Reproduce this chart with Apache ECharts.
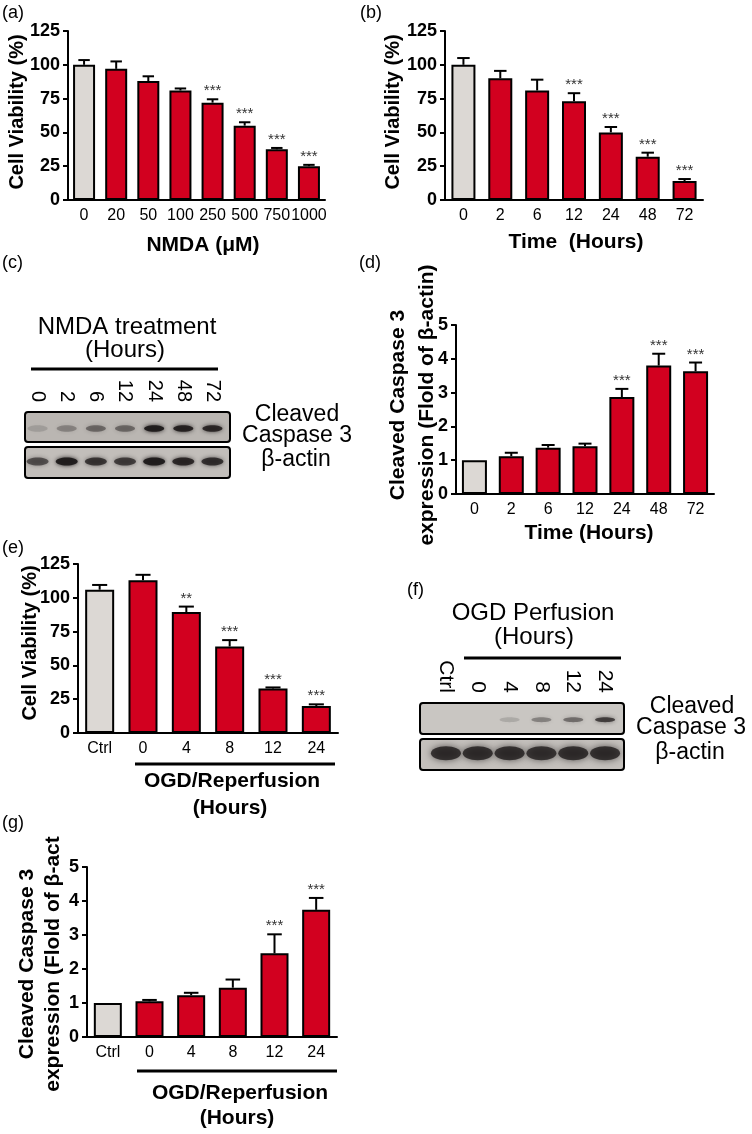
<!DOCTYPE html>
<html><head><meta charset="utf-8">
<script src="https://cdn.jsdelivr.net/npm/echarts@6/dist/echarts.min.js"></script>
<style>html,body{margin:0;padding:0;background:#fff}#c{width:752px;height:1134px}</style>
</head><body><div id="c"></div>
<script>
// ---------- data ----------
const catA = ['0','20','50','100','250','500','750','1000'];
const valA = [100, 97, 88, 81, 72, 55, 37.5, 25];
const errA = [3.5, 5.5, 3.5, 1.5, 2.5, 2.5, 1, 1];
const sigA = ['', '', '', '', '***', '***', '***', '***'];

const catB = ['0','2','6','12','24','48','72'];
const valB = [100, 90, 81, 73, 50, 32, 14];
const errB = [5, 5.5, 8, 6, 4, 3, 1.5];
const sigB = ['', '', '', '***', '***', '***', '***'];

const laneC = ['0','2','6','12','24','48','72'];
const casC = [0.15, 0.3, 0.45, 0.45, 0.95, 0.9, 0.85];
const actC = [0.6, 0.95, 0.75, 0.7, 0.95, 0.85, 0.8];

const catD = ['0','2','6','12','24','48','72'];
const valD = [1, 1.12, 1.37, 1.41, 2.87, 3.8, 3.63];
const errD = [0, 0.1, 0.08, 0.08, 0.24, 0.35, 0.26];
const sigD = ['', '', '', '', '***', '***', '***'];

const catE = ['Ctrl','0','4','8','12','24'];
const valE = [106, 113, 89.5, 64, 33, 20];
const errE = [3.5, 4, 4, 4.7, 0.7, 1.2];
const sigE = ['', '', '**', '***', '***', '***'];

const laneF = ['Ctrl','0','4','8','12','24'];
const casF = [0, 0, 0.15, 0.35, 0.45, 0.7];
const actF = [0.8, 0.8, 0.8, 0.78, 0.8, 0.8];

const catG = ['Ctrl','0','4','8','12','24'];
const valG = [1, 1.05, 1.23, 1.45, 2.46, 3.74];
const errG = [0, 0.04, 0.07, 0.24, 0.56, 0.35];
const sigG = ['', '', '', '', '***', '***'];

const ticksViability = [0, 25, 50, 75, 100, 125];
const ticksFold = [0, 1, 2, 3, 4, 5];

// ---------- style ----------
const FF = '"Liberation Sans", Arial, sans-serif';
const RED = '#d2001f';
const GRAY = '#dcd8d4';

const grids = [], xAxes = [], yAxes = [], series = [];

function barPanel(gi, layout, cats, vals, errs, sigs, ticks, bw) {
  grids.push(layout);
  xAxes.push({type:'category', gridIndex:gi, data:cats,
    axisLine:{lineStyle:{color:'#000', width:2}}, axisTick:{show:false},
    axisLabel:{color:'#000', fontSize:16, fontFamily:FF, margin:8, interval:0}});
  yAxes.push({type:'value', gridIndex:gi, min:ticks[0], max:ticks[ticks.length-1],
    interval:ticks[1]-ticks[0],
    axisLine:{show:true, lineStyle:{color:'#000', width:2}},
    axisTick:{show:true, length:5, lineStyle:{color:'#000', width:2}},
    splitLine:{show:false},
    axisLabel:{color:'#000', fontSize:18, fontWeight:'bold', fontFamily:FF, margin:8}});
  series.push({type:'bar', xAxisIndex:gi, yAxisIndex:gi, barWidth:bw, z:3,
    itemStyle:{borderColor:'#000', borderWidth:2},
    data: vals.map((v,k)=>({value:v, itemStyle:{color: k===0 ? GRAY : RED}}))});
  series.push({type:'custom', xAxisIndex:gi, yAxisIndex:gi, z:4,
    data: vals.map((v,k)=>[k, v, errs[k]]),
    renderItem(params, api) {
      const x = api.value(0), v = api.value(1), e = api.value(2);
      const top = api.coord([x, v]);
      const up = api.coord([x, v + e]);
      const half = bw * 0.26;
      const ch = [];
      if (e > 0) {
        ch.push({type:'line', shape:{x1:top[0], y1:top[1], x2:up[0], y2:up[1]}, style:{stroke:'#000', lineWidth:2}});
        ch.push({type:'line', shape:{x1:up[0]-half, y1:up[1], x2:up[0]+half, y2:up[1]}, style:{stroke:'#000', lineWidth:2}});
      }
      const s = sigs[params.dataIndex];
      if (s) ch.push({type:'text', style:{text:s, x:up[0], y:up[1]-8, align:'center', verticalAlign:'middle', font:'15px ' + FF, fill:'#333'}});
      return {type:'group', children:ch};
    }});
}

function blotPanel(gi, layout, lanes, cas, act, fontSize, sizes) {
  grids.push(layout);
  xAxes.push({type:'category', gridIndex:gi, data:lanes, position:'top',
    axisLine:{show:false}, axisTick:{show:false},
    axisLabel:{rotate:90, color:'#000', fontSize:fontSize, fontFamily:FF, margin:10, interval:0}});
  yAxes.push({type:'category', gridIndex:gi, data:['Cleaved Caspase 3','β-actin'], inverse:true, show:false});
  const data = [];
  lanes.forEach((l,k)=>{ data.push([k, 0, cas[k]]); data.push([k, 1, act[k]]); });
  series.push({type:'custom', xAxisIndex:gi, yAxisIndex:gi, z:5, data,
    renderItem(params, api) {
      const c = api.coord([api.value(0), api.value(1)]);
      const a = api.value(2);
      const sz = sizes[api.value(1)];
      if (a <= 0) return {type:'group', children:[]};
      const col = 'rgba(30,26,26,' + a.toFixed(2) + ')';
      return {type:'ellipse', shape:{cx:c[0], cy:c[1] + sz[2], rx:sz[0], ry:sz[1]},
        style:{fill:col, shadowBlur:sz[3], shadowColor:col}};
    }});
}

// (a)
barPanel(0, {left:68, top:31, width:257, height:169}, catA, valA, errA, sigA, ticksViability, 22);
// (b)
barPanel(1, {left:445, top:31, width:258, height:169}, catB, valB, errB, sigB, ticksViability, 24);
// (d)
barPanel(2, {left:456, top:325, width:258, height:169}, catD, valD, errD, sigD, ticksFold, 25);
// (e)
barPanel(3, {left:78, top:564, width:260, height:169}, catE, valE, errE, sigE, ticksViability, 29);
// (g)
barPanel(4, {left:87, top:867, width:250, height:170}, catG, valG, errG, sigG, ticksFold, 28);
// (c) blot
blotPanel(5, {left:23, top:412, width:204, height:66}, laneC, casC, actC, 20, [[10,3.2,0,4],[11,4,0,4]]);
// (f) blot
blotPanel(6, {left:430, top:703, width:191, height:67}, laneF, casF, actF, 21, [[10,2.4,0,4],[15,7,0,7]]);

function txt(text, x, y, size, opt) {
  opt = opt || {};
  return {type:'text', x, y, rotation: opt.rot || 0, z:10,
    style:{text, font:(opt.bold ? 'bold ' : '') + size + 'px ' + FF, fill:'#000',
      align: opt.align || 'center', verticalAlign:'middle', lineHeight: opt.lh || size * 1.2}};
}
function hline(x1, x2, y) {
  return {type:'line', z:10, shape:{x1, y1:y, x2, y2:y}, style:{stroke:'#000', lineWidth:3}};
}
function box(x, y, w, h, fill) {
  return {type:'rect', z:0, shape:{x, y, width:w, height:h, r:3}, style:{fill, stroke:'#000', lineWidth:2}};
}
const R = Math.PI / 2;
const graphic = [
  txt('(a)', 2, 13, 18, {align:'left'}),
  txt('(b)', 360, 13, 18, {align:'left'}),
  txt('(c)', 2, 263, 18, {align:'left'}),
  txt('(d)', 359, 263, 18, {align:'left'}),
  txt('(e)', 2, 548, 18, {align:'left'}),
  txt('(f)', 407, 590, 18, {align:'left'}),
  txt('(g)', 2, 823, 18, {align:'left'}),
  // y names
  txt('Cell Viability (%)', 17, 112, 20, {bold:true, rot:R}),
  txt('Cell Viability (%)', 393, 112, 20, {bold:true, rot:R}),
  txt('Cleaved Caspase 3\nexpression (Flold of β-actin)', 413, 405, 21, {bold:true, rot:R, lh:29}),
  txt('Cell Viability (%)', 30, 643, 20, {bold:true, rot:R}),
  txt('Cleaved Caspase 3\nexpression (Flold of β-act', 40, 964, 21, {bold:true, rot:R, lh:26}),
  // x names
  txt('NMDA (μM)', 203, 245, 21, {bold:true}),
  txt('Time  (Hours)', 576, 242, 21, {bold:true}),
  txt('Time (Hours)', 589, 533, 21, {bold:true}),
  hline(135, 335, 764),
  txt('OGD/Reperfusion', 232, 781, 21, {bold:true}),
  txt('(Hours)', 230, 808, 21, {bold:true}),
  hline(137, 337, 1071),
  txt('OGD/Reperfusion', 240, 1093, 21, {bold:true}),
  txt('(Hours)', 237, 1118, 21, {bold:true}),
  // blot c
  txt('NMDA treatment', 127, 327, 24),
  txt('(Hours)', 125, 350, 24),
  hline(31, 218, 369),
  box(25, 412, 205, 30, '#bab6b2'),
  box(25, 447, 205, 31, '#c2beba'),
  txt('Cleaved', 297, 415, 23),
  txt('Caspase 3', 297, 436, 23),
  txt('β-actin', 296, 460, 23),
  // blot f
  txt('OGD Perfusion', 533, 613, 24),
  txt('(Hours)', 534, 637, 24),
  hline(464, 621, 658),
  box(420, 703, 204, 31, '#c9c6c2'),
  box(420, 739, 204, 31, '#c4c0bc'),
  txt('Cleaved', 692, 707, 23),
  txt('Caspase 3', 691, 728, 23),
  txt('β-actin', 690, 753, 23)
];

const chart = echarts.init(document.getElementById('c'), null, {renderer:'canvas'});
chart.setOption({animation:false, backgroundColor:'#fff', grid:grids, xAxis:xAxes, yAxis:yAxes, series, graphic});
</script></body></html>
